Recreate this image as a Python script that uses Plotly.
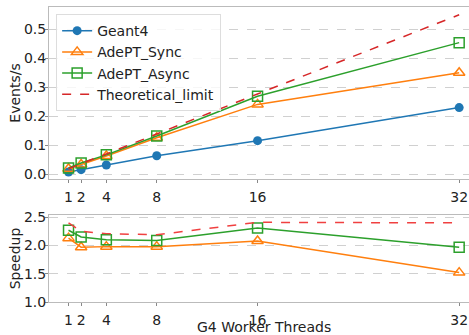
import plotly.graph_objects as go

threads = [1, 2, 4, 8, 16, 32]
tick_labels = ["1", "2", "4", "8", "16", "32"]

geant4 = [0.007, 0.015, 0.031, 0.063, 0.115, 0.229]
adept_sync = [0.018, 0.033, 0.062, 0.125, 0.240, 0.349]
adept_async = [0.021, 0.038, 0.066, 0.131, 0.268, 0.453]
theoretical = [0.018, 0.036, 0.069, 0.138, 0.276, 0.549]

speedup_sync = [2.13, 1.97, 1.98, 1.98, 2.08, 1.52]
speedup_async = [2.27, 2.15, 2.10, 2.09, 2.31, 1.97]
speedup_theoretical = [2.40, 2.25, 2.21, 2.19, 2.41, 2.40]

BLUE = "#1f77b4"
ORANGE = "#ff7f0e"
GREEN = "#2ca02c"
RED = "#d62728"
RED2 = "#f04040"
FONT = "DejaVu Sans"
FS = 14

fig = go.Figure()

fig.add_trace(go.Scatter(x=threads, y=geant4, name="Geant4", mode="lines+markers",
                         line=dict(color=BLUE, width=1.5),
                         marker=dict(symbol="circle", size=9, color=BLUE),
                         xaxis="x", yaxis="y"))
fig.add_trace(go.Scatter(x=threads, y=adept_sync, name="AdePT_Sync", mode="lines+markers",
                         line=dict(color=ORANGE, width=1.5),
                         marker=dict(symbol="triangle-up-open", size=10, color=ORANGE, line=dict(width=1.5)),
                         xaxis="x", yaxis="y"))
fig.add_trace(go.Scatter(x=threads, y=adept_async, name="AdePT_Async", mode="lines+markers",
                         line=dict(color=GREEN, width=1.5),
                         marker=dict(symbol="square-open", size=10, color=GREEN, line=dict(width=1.5)),
                         xaxis="x", yaxis="y"))
fig.add_trace(go.Scatter(x=threads, y=theoretical, name="Theoretical_limit", mode="lines",
                         line=dict(color=RED, width=1.5, dash="dash"),
                         xaxis="x", yaxis="y"))

fig.add_trace(go.Scatter(x=threads, y=speedup_sync, mode="lines+markers", showlegend=False,
                         line=dict(color=ORANGE, width=1.5),
                         marker=dict(symbol="triangle-up-open", size=10, color=ORANGE, line=dict(width=1.5)),
                         xaxis="x2", yaxis="y2"))
fig.add_trace(go.Scatter(x=threads, y=speedup_async, mode="lines+markers", showlegend=False,
                         line=dict(color=GREEN, width=1.5),
                         marker=dict(symbol="square-open", size=10, color=GREEN, line=dict(width=1.5)),
                         xaxis="x2", yaxis="y2"))
fig.add_trace(go.Scatter(x=threads, y=speedup_theoretical, mode="lines", showlegend=False,
                         line=dict(color=RED2, width=1.5, dash="dash"),
                         xaxis="x2", yaxis="y2"))

axis_common = dict(showline=True, linecolor="#bbbbbb", linewidth=1, ticks="outside",
                   ticklen=3, tickcolor="#888888", tickfont=dict(size=FS, color="#222222", family=FONT),
                   zeroline=False, automargin=False)

xr = [-0.55, 32.78]
fig.update_layout(
    width=469, height=335,
    margin=dict(l=49, r=0, t=7, b=33, autoexpand=False),
    paper_bgcolor="white", plot_bgcolor="white",
    font=dict(family=FONT, size=FS, color="#222222"),
    xaxis=dict(domain=[0, 1], anchor="y", range=xr, tickvals=threads, ticktext=tick_labels,
               showgrid=False, mirror=True, ticklabelstandoff=2, **axis_common),
    yaxis=dict(domain=[0.417, 1], anchor="x", range=[-0.0172, 0.5759],
               tickvals=[0, 0.1, 0.2, 0.3, 0.4, 0.5],
               ticktext=["0.0", "0.1", "0.2", "0.3", "0.4", "0.5"],
               showgrid=True, gridcolor="#d0d0d0", griddash="dash", gridwidth=1,
               ticklabelstandoff=-4,
               title=dict(text="Events/s", font=dict(size=FS), standoff=0), **axis_common),
    xaxis2=dict(domain=[0, 1], anchor="y2", range=xr, tickvals=threads, ticktext=tick_labels,
                showgrid=False, mirror=True, ticklabelstandoff=2, **axis_common),
    yaxis2=dict(domain=[0, 0.295], anchor="x2", range=[1.0, 2.54],
                tickvals=[1.0, 1.5, 2.0, 2.5], ticktext=["1.0", "1.5", "2.0", "2.5"],
                showgrid=True, gridcolor="#d0d0d0", griddash="dash", gridwidth=1,
                ticklabelstandoff=-4,
                title=dict(text="Speedup", font=dict(size=FS), standoff=0), **axis_common),
    legend=dict(x=0.017, y=0.976, xref="paper", yref="paper", xanchor="left", yanchor="top",
                bgcolor="rgba(255,255,255,0.8)", bordercolor="#dddddd", borderwidth=1,
                font=dict(size=FS, family=FONT, color="#222222"), itemwidth=30,
                tracegroupgap=0),
    annotations=[dict(text="G4 Worker Threads", xref="paper", yref="paper", x=0.511, y=-0.086,
                      xanchor="center", yanchor="middle", showarrow=False,
                      font=dict(size=FS, family=FONT, color="#222222"))],
)

fig.write_html("out.html", config={"displayModeBar": False},
               post_script="document.body.style.margin='0';document.body.style.overflow='hidden';")
